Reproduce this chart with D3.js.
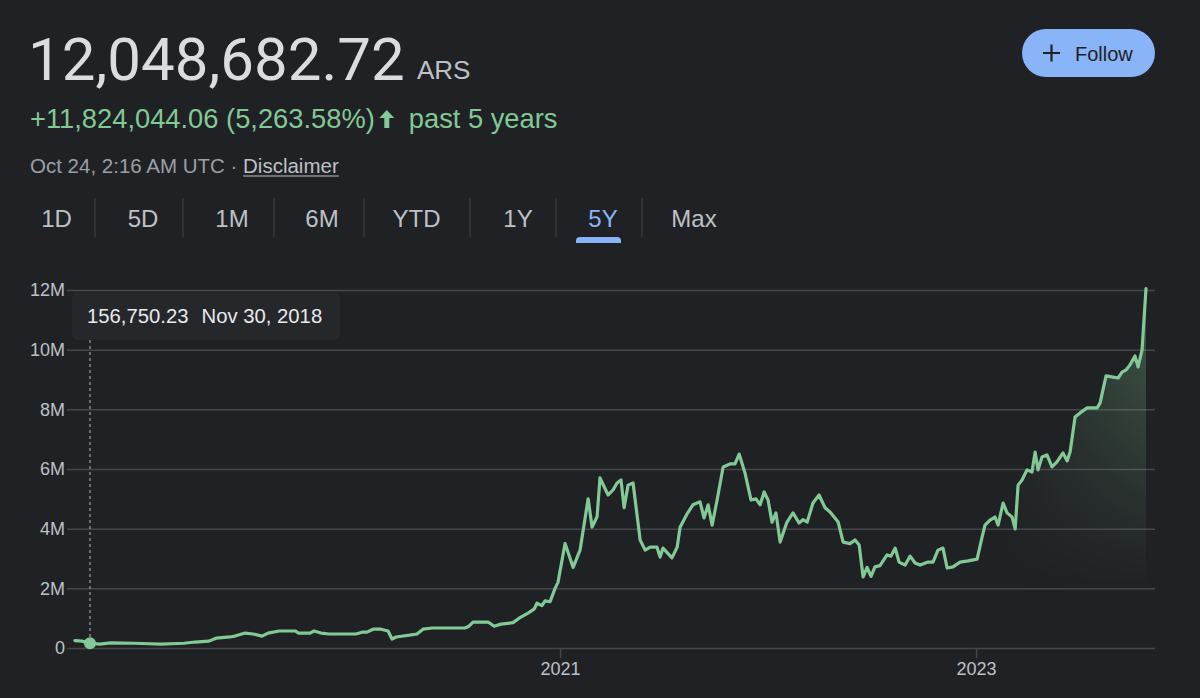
<!DOCTYPE html>
<html><head><meta charset="utf-8">
<script src="https://cdn.jsdelivr.net/npm/d3@7"></script>
<style>html,body{margin:0;padding:0;background:#202124;overflow:hidden}</style>
</head><body><svg id="c" width="1200" height="698"></svg>
<script>
// ---------- data ----------
const years = [2018.668,2018.702,2018.740,2018.786,2018.841,2018.952,2019.082,2019.192,2019.245,2019.312,2019.346,2019.413,2019.437,2019.486,2019.524,2019.567,2019.596,2019.649,2019.726,2019.743,2019.798,2019.817,2019.851,2019.889,2019.962,2020.019,2020.048,2020.072,2020.101,2020.139,2020.173,2020.192,2020.212,2020.276,2020.312,2020.341,2020.385,2020.423,2020.481,2020.543,2020.562,2020.582,2020.654,2020.683,2020.716,2020.774,2020.803,2020.846,2020.875,2020.889,2020.913,2020.928,2020.952,2020.976,2020.990,2021.024,2021.063,2021.096,2021.135,2021.154,2021.178,2021.192,2021.231,2021.255,2021.274,2021.293,2021.308,2021.327,2021.351,2021.385,2021.409,2021.433,2021.466,2021.481,2021.495,2021.538,2021.563,2021.577,2021.611,2021.639,2021.673,2021.692,2021.712,2021.731,2021.755,2021.784,2021.817,2021.841,2021.861,2021.889,2021.918,2021.942,2021.962,2021.981,2022.000,2022.019,2022.038,2022.058,2022.091,2022.120,2022.149,2022.168,2022.188,2022.216,2022.245,2022.274,2022.298,2022.337,2022.361,2022.394,2022.418,2022.438,2022.457,2022.476,2022.495,2022.514,2022.538,2022.572,2022.591,2022.611,2022.630,2022.659,2022.683,2022.707,2022.731,2022.769,2022.793,2022.817,2022.841,2022.861,2022.889,2022.923,2022.962,2023.005,2023.029,2023.043,2023.067,2023.091,2023.106,2023.130,2023.149,2023.173,2023.188,2023.202,2023.221,2023.245,2023.269,2023.284,2023.298,2023.317,2023.341,2023.365,2023.389,2023.418,2023.438,2023.452,2023.476,2023.500,2023.534,2023.582,2023.596,2023.625,2023.659,2023.683,2023.702,2023.721,2023.740,2023.764,2023.779,2023.798,2023.817];
const values = [0.25,0.23,0.16,0.13,0.17,0.16,0.13,0.16,0.20,0.23,0.33,0.37,0.40,0.50,0.47,0.40,0.50,0.57,0.57,0.50,0.50,0.57,0.50,0.47,0.47,0.47,0.53,0.53,0.63,0.63,0.57,0.30,0.37,0.43,0.47,0.63,0.67,0.67,0.67,0.67,0.73,0.87,0.87,0.73,0.80,0.85,1.00,1.17,1.30,1.50,1.42,1.58,1.55,2.00,2.20,3.50,2.70,3.28,5.00,4.05,4.40,5.70,5.13,5.30,5.53,5.63,4.70,5.46,5.53,3.62,3.28,3.38,3.38,3.05,3.35,3.02,3.38,4.05,4.50,4.80,4.90,4.36,4.80,4.12,4.96,6.07,6.17,6.17,6.50,5.87,4.96,5.00,4.80,5.23,4.96,4.22,4.53,3.55,4.22,4.53,4.19,4.30,4.22,4.86,5.13,4.70,4.56,4.22,3.55,3.50,3.62,3.45,2.38,2.70,2.40,2.72,2.76,3.12,3.08,3.35,2.88,2.78,3.08,2.85,2.78,2.88,2.88,3.28,3.35,2.68,2.72,2.88,2.92,2.98,3.72,4.12,4.29,4.39,4.12,4.86,4.53,4.39,3.99,5.46,5.63,5.97,5.90,6.57,5.97,6.40,6.47,6.07,6.24,6.54,6.27,6.57,7.74,7.88,8.05,8.05,8.21,9.12,9.08,9.05,9.25,9.32,9.49,9.79,9.42,9.99,12.05];
const yTicks = [0,2,4,6,8,10,12];
const yTickLabels = ["0","2M","4M","6M","8M","10M","12M"];
const xTicks = [2021,2023];
const xTickLabels = ["2021","2023"];
const tabs = ["1D","5D","1M","6M","YTD","1Y","5Y","Max"];
const activeTab = "5Y";
const priceText = "12,048,682.72";
const currencyText = "ARS";
const changeText = "+11,824,044.06 (5,263.58%)";
const periodText = "past 5 years";
const timeText = "Oct 24, 2:16 AM UTC \u00b7\u00a0";
const disclaimerText = "Disclaimer";
const followText = "Follow";
const hoverIndex = 2;
const hoverValueText = "156,750.23";
const hoverDateText = "Nov 30, 2018";

// ---------- layout ----------
const W = 1200, H = 698;
const plot = {left: 67, right: 1155, top: 290, bottom: 648, lineX0: 75, lineX1: 1146};
const tabCenters = [56.5,143,232,322,416.5,518,603,694];
const tabSeparators = [95,183,274,364,470,556,642];
const C = {bg:"#202124", text:"#dadce0", sub:"#bdc1c6", muted:"#9aa0a6", green:"#81c995", blue:"#8ab4f8", grid:"#45474b"};
const SANS = "'Liberation Sans', Arial, Helvetica, sans-serif";

const svg = d3.select("#c");
svg.append("rect").attr("width",W).attr("height",H).attr("fill",C.bg);

// ---------- header ----------
svg.append("text").attr("x",28).attr("y",80).attr("font-family","Roboto, "+SANS)
  .attr("font-size",60).attr("fill",C.text).text(priceText);
svg.append("text").attr("x",417).attr("y",79).attr("font-family",SANS)
  .attr("font-size",26).attr("fill",C.sub).text(currencyText);

const ch = svg.append("text").attr("x",30).attr("y",128).attr("font-family",SANS)
  .attr("font-size",27.3).attr("fill",C.green).text(changeText);
const chEnd = 30 + ch.node().getComputedTextLength();
const ax = chEnd + 12;
svg.append("path").attr("d",`M${ax},${110} l-7.5,8 h5 v10 h5 v-10 h5 z`).attr("fill",C.green);
svg.append("text").attr("x",ax+ 22).attr("y",128).attr("font-family",SANS)
  .attr("font-size",27.3).attr("fill",C.green).text(periodText);

const tt = svg.append("text").attr("x",30).attr("y",173).attr("font-family",SANS)
  .attr("font-size",20.5).attr("fill",C.muted).text(timeText);
const dx0 = 30 + tt.node().getComputedTextLength();
const dis = svg.append("text").attr("x",dx0).attr("y",173).attr("font-family",SANS)
  .attr("font-size",20.5).attr("fill",C.sub).text(disclaimerText);
svg.append("line").attr("x1",dx0).attr("x2",dx0+dis.node().getComputedTextLength())
  .attr("y1",176).attr("y2",176).attr("stroke",C.sub).attr("stroke-width",1.2);

// follow button
svg.append("rect").attr("x",1022).attr("y",29).attr("width",133).attr("height",48).attr("rx",24).attr("fill",C.blue);
svg.append("path").attr("d","M1043,53 h17 M1051.5,44.5 v17").attr("stroke","#202124").attr("stroke-width",2.2);
svg.append("text").attr("x",1075).attr("y",61).attr("font-family",SANS).attr("font-size",20).attr("fill","#202124").text(followText);

// tabs
tabs.forEach((t,i)=>{
  svg.append("text").attr("x",tabCenters[i]).attr("y",227).attr("text-anchor","middle")
    .attr("font-family",SANS).attr("font-size",24).attr("fill", t===activeTab?C.blue:C.sub).text(t);
  if (t===activeTab) {
    const cx = tabCenters[i] - 4.5;
    svg.append("path").attr("d",`M${cx-22.5},243 v-2 a4,4 0 0 1 4,-4 h37 a4,4 0 0 1 4,4 v2 z`).attr("fill",C.blue);
  }
});
tabSeparators.forEach(x=>{
  svg.append("line").attr("x1",x).attr("x2",x).attr("y1",198).attr("y2",237).attr("stroke","#3c4043").attr("stroke-width",1.2);
});

// ---------- chart ----------
const x = d3.scaleLinear().domain([years[0], years[years.length-1]]).range([plot.lineX0, plot.lineX1]);
const y = d3.scaleLinear().domain([0,12]).range([plot.bottom, plot.top]);

const gy = svg.append("g").attr("transform",`translate(${plot.left},0)`)
  .call(d3.axisLeft(y).tickValues(yTicks).tickFormat((d,i)=>yTickLabels[i]).tickSize(-(plot.right-plot.left)).tickPadding(2));
gy.select(".domain").remove();
gy.selectAll(".tick line").attr("stroke",C.grid).attr("stroke-width",1.5);
gy.selectAll(".tick text").attr("fill",C.sub).attr("font-family",SANS).attr("font-size",18);

const gx = svg.append("g").attr("transform",`translate(0,${plot.bottom})`)
  .call(d3.axisBottom(x).tickValues(xTicks).tickFormat((d,i)=>xTickLabels[i]).tickSize(10).tickPadding(4));
gx.select(".domain").remove();
gx.selectAll(".tick line").attr("stroke",C.grid).attr("stroke-width",1.5);
gx.selectAll(".tick text").attr("fill",C.sub).attr("font-family",SANS).attr("font-size",18);

const pts = years.map((yr,i)=>[yr, values[i]]);

// gradient area
const defs = svg.append("defs");
const hg = defs.append("linearGradient").attr("id","hfade").attr("gradientUnits","userSpaceOnUse")
  .attr("x1",985).attr("x2",plot.lineX1).attr("y1",0).attr("y2",0);
hg.append("stop").attr("offset",0).attr("stop-color",C.green).attr("stop-opacity",0);
hg.append("stop").attr("offset",1).attr("stop-color",C.green).attr("stop-opacity",0.26);
const vg = defs.append("linearGradient").attr("id","vfade").attr("gradientUnits","userSpaceOnUse")
  .attr("x1",0).attr("x2",0).attr("y1",360).attr("y2",590);
vg.append("stop").attr("offset",0).attr("stop-color","#fff");
vg.append("stop").attr("offset",1).attr("stop-color","#000");
defs.append("mask").attr("id","vmask").append("rect").attr("x",0).attr("y",0).attr("width",W).attr("height",H).attr("fill","url(#vfade)");

svg.append("path").datum(pts)
  .attr("d", d3.area().x(d=>x(d[0])).y0(plot.bottom).y1(d=>y(d[1])))
  .attr("fill","url(#hfade)").attr("mask","url(#vmask)");

svg.append("path").datum(pts)
  .attr("d", d3.line().x(d=>x(d[0])).y(d=>y(d[1])))
  .attr("fill","none").attr("stroke",C.green).attr("stroke-width",3.2)
  .attr("stroke-linejoin","round").attr("stroke-linecap","round");

// hover
const hx = x(years[hoverIndex]), hy = y(values[hoverIndex]);
svg.append("line").attr("x1",hx).attr("x2",hx).attr("y1",340).attr("y2",hy)
  .attr("stroke","#9aa0a6").attr("stroke-width",1.2).attr("stroke-dasharray","3,3");
svg.append("circle").attr("cx",hx).attr("cy",hy).attr("r",6).attr("fill",C.green);

svg.append("rect").attr("x",73).attr("y",294).attr("width",266).attr("height",45).attr("rx",4)
  .attr("fill","#26272a").attr("stroke","#2c2d30").attr("stroke-width",1);
const tv = svg.append("text").attr("x",87).attr("y",323).attr("font-family",SANS).attr("font-size",20.3).attr("fill","#e8eaed").text(hoverValueText);
svg.append("text").attr("x",87 + tv.node().getComputedTextLength() + 13).attr("y",323)
  .attr("font-family",SANS).attr("font-size",20.3).attr("fill","#e8eaed").text(hoverDateText);
</script></body></html>
